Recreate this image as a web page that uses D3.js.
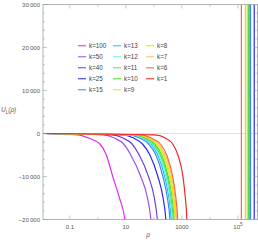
<!DOCTYPE html>
<html>
<head>
<meta charset="utf-8">
<script src="https://cdn.jsdelivr.net/npm/d3@7"></script>
<style>
  body { margin: 0; background: #fff; }
  text { font-family: "Liberation Sans", Arial, sans-serif; }
</style>
</head>
<body>
<div id="chart"></div>
<script>

// curve labels, drawn in this order (k=1 last, on top)
const kValues = [100, 50, 40, 25, 15, 13, 12, 11, 10, 9, 8, 7, 6, 1];
const colors = ["#e028f0", "#a050e8", "#6a40e0", "#2828f0", "#3c8cf4", "#28bcf4", "#68f0ec",
    "#50e088", "#40e020", "#d4ec30", "#f4e000", "#f8c070", "#f46a40", "#f02828"];

// U_L levels (shared) and rho where each curve reaches them
const uLevels = [-300, -1000, -2500, -5000, -10000, -15000, -20000, -23000];
const rhoAtLevel = [
    [0.19, 0.44, 1.2, 2.0, 3.4, 5.9, 9.2, 10.4],     // k=100
    [1.6, 3.7, 8.5, 15, 34, 59, 78, 85],             // k=50
    [3.3, 7.5, 17, 30, 64, 104, 133, 145],           // k=40
    [7.8, 18, 40, 72, 139, 213, 268, 287],           // k=25
    [13, 29, 66, 118, 210, 303, 373, 395],           // k=15
    [15.5, 35, 80, 137, 243, 343, 415, 439],         // k=13
    [17, 38, 87, 151, 268, 376, 451, 477],           // k=12
    [20, 45, 98, 168, 299, 408, 489, 514],           // k=11
    [21.5, 49, 111, 190, 324, 451, 531, 558],        // k=10
    [25, 57, 125, 213, 364, 485, 572, 601],          // k=9
    [27, 61, 139, 228, 388, 518, 611, 641],          // k=8
    [31, 71, 155, 253, 432, 562, 652, 679],          // k=7
    [34, 77, 175, 287, 469, 611, 708, 738],          // k=6
    [109, 247, 477, 720, 1090, 1330, 1510, 1570]     // k=1
];
const rhoStart = 0.011;

// vertical branches near the right edge
const poleK = [6, 7, 8, 9, 10, 11, 13, 15, 25];
const poleRho = [1.33e5, 1.85e5, 2.15e5, 2.24e5, 2.39e5, 2.51e5, 2.68e5, 2.82e5, 3.82e5];

const yTicks = [-20000, -10000, 0, 10000, 20000, 30000];
const yTickLabels = ["\u221220\u2009000", "\u221210\u2009000", "0", "10\u2009000", "20\u2009000", "30\u2009000"];
const xTicks = [0.1, 10, 1000, 1e5];
const xTickLabels = ["0.1", "10", "1000", "10^5"];

const legendCols = [[100, 50, 40, 25, 15], [13, 12, 11, 10, 9], [8, 7, 6, 1]];

const width = 258, height = 240;
const pLeft = 43, pRight = 257.5, pTop = 4.5, pBottom = 219.5;

const svg = d3.select("#chart").append("svg")
    .attr("width", width)
    .attr("height", height);

const x = d3.scaleLog().domain([0.011, 5e5]).range([pLeft, pRight]);
const y = d3.scaleLinear().domain([-20000, 30000]).range([pBottom, pTop]);

svg.append("clipPath").attr("id", "clip")
    .append("rect")
    .attr("x", pLeft).attr("y", pTop)
    .attr("width", pRight - pLeft).attr("height", pBottom - pTop);

// zero line
svg.append("line")
    .attr("x1", pLeft).attr("x2", pRight)
    .attr("y1", y(0)).attr("y2", y(0))
    .attr("stroke", "#d8d8d8")
    .attr("stroke-width", 0.8);

const plot = svg.append("g").attr("clip-path", "url(#clip)");

const line = d3.line()
    .x(d => x(d[0]))
    .y(d => y(d[1]))
    .curve(d3.curveMonotoneX);

// vertical branches first
poleK.forEach(function (k, i) {
    const c = colors[kValues.indexOf(k)];
    plot.append("line")
        .attr("x1", x(poleRho[i])).attr("x2", x(poleRho[i]))
        .attr("y1", pTop).attr("y2", pBottom)
        .attr("stroke", c)
        .attr("stroke-width", 1.2);
});

kValues.forEach(function (k, i) {
    const pts = [[rhoStart, 0]];
    uLevels.forEach(function (u, j) { pts.push([rhoAtLevel[i][j], u]); });
    plot.append("path")
        .attr("d", line(pts))
        .attr("fill", "none")
        .attr("stroke", colors[i])
        .attr("stroke-width", 1.2);
});

// frame
svg.append("rect")
    .attr("x", pLeft).attr("y", pTop)
    .attr("width", pRight - pLeft).attr("height", pBottom - pTop)
    .attr("fill", "none")
    .attr("stroke", "#a0a0a0")
    .attr("stroke-width", 0.8);

const tickColor = "#a0a0a0";

// y ticks (inward, both sides)
d3.range(-20000, 30001, 2000).forEach(function (v) {
    const major = v % 10000 === 0;
    const len = major ? 4 : 2;
    svg.append("line").attr("x1", pLeft).attr("x2", pLeft + len)
        .attr("y1", y(v)).attr("y2", y(v))
        .attr("stroke", tickColor).attr("stroke-width", 0.6);
    svg.append("line").attr("x1", pRight).attr("x2", pRight - len)
        .attr("y1", y(v)).attr("y2", y(v))
        .attr("stroke", tickColor).attr("stroke-width", 0.6);
});

yTicks.forEach(function (v, i) {
    svg.append("text")
        .attr("x", pLeft - 3)
        .attr("y", y(v) + 2)
        .attr("text-anchor", "end")
        .attr("font-size", 6)
        .attr("fill", "#555")
        .text(yTickLabels[i]);
});

// x ticks, every decade
d3.range(-1, 6).map(e => Math.pow(10, e)).forEach(function (v) {
    const labeled = xTicks.indexOf(v) >= 0;
    const len = labeled ? 4 : 2.5;
    svg.append("line").attr("x1", x(v)).attr("x2", x(v))
        .attr("y1", pBottom).attr("y2", pBottom - len)
        .attr("stroke", tickColor).attr("stroke-width", 0.6);
    svg.append("line").attr("x1", x(v)).attr("x2", x(v))
        .attr("y1", pTop).attr("y2", pTop + len)
        .attr("stroke", tickColor).attr("stroke-width", 0.6);
});

xTicks.forEach(function (v, i) {
    const t = svg.append("text")
        .attr("x", x(v))
        .attr("y", pBottom + 9)
        .attr("text-anchor", "middle")
        .attr("font-size", 6)
        .attr("fill", "#555");
    const lab = xTickLabels[i];
    if (lab.indexOf("^") > 0) {
        const parts = lab.split("^");
        t.append("tspan").text(parts[0]);
        t.append("tspan").attr("dy", -2.5).attr("font-size", 4.5).text(parts[1]);
    } else {
        t.text(lab);
    }
});

// axis labels
svg.append("text")
    .attr("x", 148).attr("y", 237)
    .attr("text-anchor", "middle")
    .attr("font-size", 6.5)
    .attr("font-style", "italic")
    .attr("fill", "#555")
    .text("\u03c1");

const yl = svg.append("text")
    .attr("x", 1).attr("y", 112)
    .attr("font-size", 6.5)
    .attr("font-style", "italic")
    .attr("fill", "#555");
yl.append("tspan").text("U");
yl.append("tspan").attr("dy", 1.5).attr("font-size", 4.5).text("L");
yl.append("tspan").attr("dy", -1.5).text("(\u03c1)");

// legend
const colX = [78, 113, 146];
legendCols.forEach(function (col, ci) {
    col.forEach(function (k, ri) {
        const yy = 45.7 + ri * 11;
        const c = colors[kValues.indexOf(k)];
        svg.append("line")
            .attr("x1", colX[ci]).attr("x2", colX[ci] + 8)
            .attr("y1", yy).attr("y2", yy)
            .attr("stroke", c)
            .attr("stroke-width", 1.4)
            .attr("stroke-opacity", 0.75);
        svg.append("text")
            .attr("x", colX[ci] + 11)
            .attr("y", yy + 2.2)
            .attr("font-size", 6.3)
            .attr("fill", "#444")
            .text("k=" + k);
    });
});

</script>
</body>
</html>
